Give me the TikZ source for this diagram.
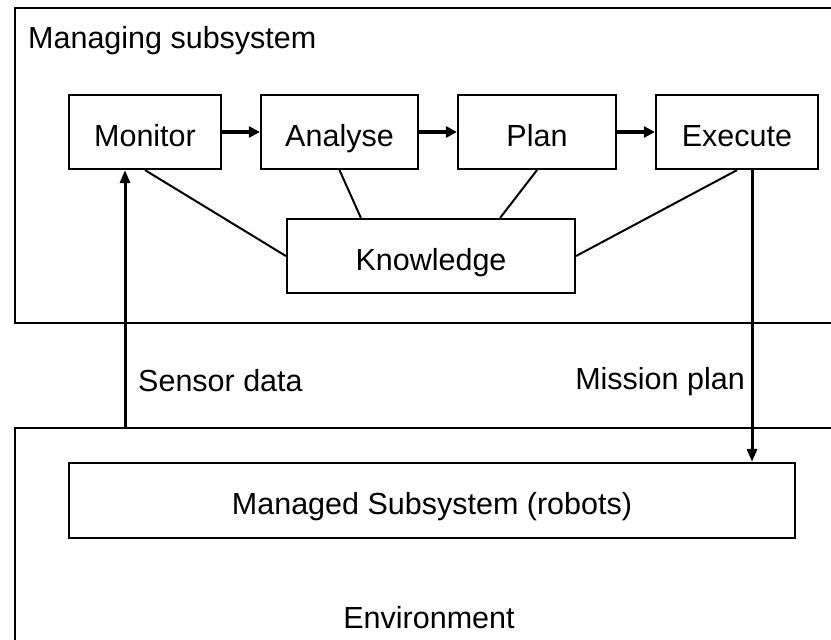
\documentclass[tikz,border=0pt]{standalone}
\usepackage{fontspec}
\setmainfont{Liberation Sans}
\usetikzlibrary{arrows.meta}
\begin{document}
\begin{tikzpicture}[x=1pt,y=-1pt,
  every node/.style={font=\fontsize{30.5}{35}\selectfont, inner sep=0pt, text height=33.5pt, text depth=5.5pt},
  box/.style={draw, line width=2.2pt, minimum height=74pt},
  frame/.style={draw, line width=2.2pt},
  flow/.style={line width=4pt, -{Triangle[length=11pt,width=11pt]}},
  link/.style={line width=2pt},
  vflow/.style={line width=3pt, -{Triangle[length=13pt,width=10pt]}}]
\useasboundingbox (0,0) rectangle (831,640);
\clip (0,0) rectangle (831,640);
\fill[white] (0,0) rectangle (831,640);
% outer frames
\draw[frame] (15,8) rectangle (860,323);
\draw[frame] (15,428) rectangle (860,680);
\node[anchor=west] (ms) at (28,34.5) {Managing subsystem};
\node (env) at (429,614) {Environment};
\coordinate (envtop) at (125,428);
% MAPE boxes
\node[box, minimum width=152pt] (M) at (145,132) {Monitor};
\node[box, minimum width=157pt] (A) at (339.5,132) {Analyse};
\node[box, minimum width=158pt] (P) at (537,132) {Plan};
\node[box, minimum width=162pt] (E) at (737,132) {Execute};
\node[box, minimum width=288pt] (K) at (431,256) {Knowledge};
\node[box, minimum width=726pt, minimum height=75pt] (R) at (432,500.5) {Managed Subsystem (robots)};
% flow arrows
\draw[flow] (M.east) -- (A.west);
\draw[flow] (A.east) -- (P.west);
\draw[flow] (P.east) -- (E.west);
% knowledge links
\draw[link] (M.south) -- (K.west);
\draw[link] (A.south) -- ([xshift=75pt]K.north west);
\draw[link] (P.south) -- ([xshift=-76pt]K.north east);
\draw[link] (E.south) -- (K.east);
% vertical arrows
\draw[vflow] (envtop) -- ([xshift=-20pt]M.south);
\draw[vflow] ([xshift=15pt]E.south) -- ([xshift=15pt]E.south |- R.north);
\node[anchor=west] (sd) at (138,377) {Sensor data};
\node[anchor=east] (mp) at (745,375) {Mission plan};
\end{tikzpicture}
\end{document}
